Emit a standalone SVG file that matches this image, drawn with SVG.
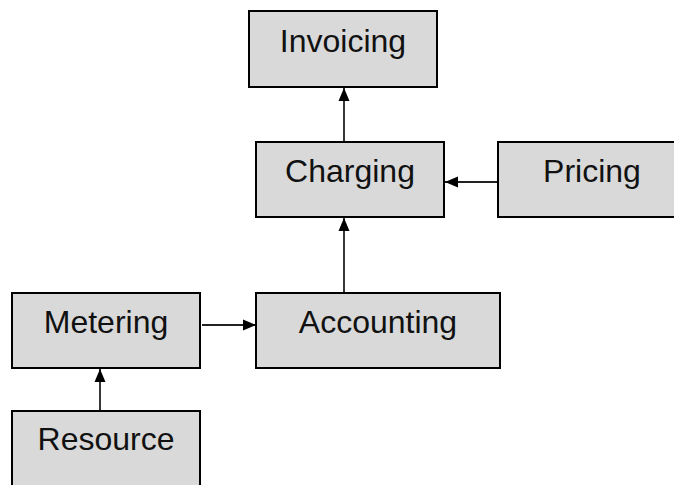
<svg xmlns="http://www.w3.org/2000/svg" width="674" height="485" viewBox="0 0 674 485">
<style>
.box{fill:#d9d9d9;stroke:#000;stroke-width:2}
.lbl{font-family:"Liberation Sans",Arial,sans-serif;font-size:32px;fill:#111;text-anchor:middle}
.con{stroke:#222;stroke-width:1.8;fill:none;marker-end:url(#ah)}
</style>
<defs>
<marker id="ah" markerUnits="userSpaceOnUse" markerWidth="13" markerHeight="12" viewBox="0 0 13 12" refX="13" refY="6" orient="auto">
<path d="M0,0.5 L13,6 L0,11.5 Z" fill="#000"/>
</marker>
</defs>
<rect width="674" height="485" fill="#fff"/>
<g id="connectors">
<line class="con" x1="344" y1="142" x2="344" y2="88"/>
<line class="con" x1="498" y1="182" x2="445" y2="182"/>
<line class="con" x1="344" y1="293" x2="344" y2="218"/>
<line class="con" x1="202" y1="325" x2="256" y2="325"/>
<line class="con" x1="100" y1="411" x2="100" y2="369"/>
</g>
<g id="invoicing"><rect class="box" x="249" y="11" width="188" height="76"/><text class="lbl" x="343" y="52">Invoicing</text></g>
<g id="charging"><rect class="box" x="256" y="142" width="188" height="75"/><text class="lbl" x="350" y="182">Charging</text></g>
<g id="pricing"><rect class="box" x="498" y="142" width="188" height="75"/><text class="lbl" x="592" y="182">Pricing</text></g>
<g id="metering"><rect class="box" x="12" y="293" width="188" height="75"/><text class="lbl" x="106" y="333">Metering</text></g>
<g id="accounting"><rect class="box" x="256" y="293" width="244" height="75"/><text class="lbl" x="378" y="333">Accounting</text></g>
<g id="resource"><rect class="box" x="12" y="411" width="188" height="90"/><text class="lbl" x="106" y="450">Resource</text></g>
</svg>
